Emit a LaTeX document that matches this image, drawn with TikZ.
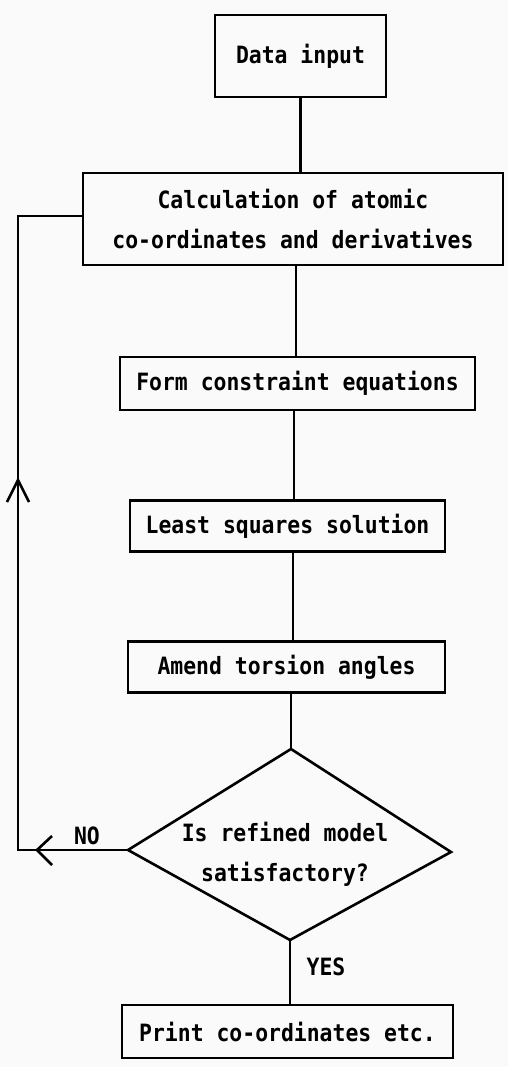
\documentclass[tikz,border=0pt]{standalone}
\usepackage{fontspec}
\setmonofont[FakeStretch=0.9]{DejaVu Sans Mono}
\begin{document}
\begin{tikzpicture}[x=1pt,y=-1pt,
  every node/.style={font=\ttfamily\bfseries\fontsize{23.8}{40}\selectfont},
  box/.style={draw,line width=2.6pt,inner sep=0pt,align=center},
  conn/.style={line width=2.6pt},
  lbl/.style={inner sep=0pt}]
\fill[white!96!gray] (0,0) rectangle (508,1067);
\useasboundingbox (0,0) rectangle (508,1067);
\node[box,minimum width=171pt,minimum height=82pt] (data) at (300.5,56) {Data input};
\node[box,minimum width=420pt,minimum height=92pt] (calc) at (293,219) {Calculation of atomic\\co-ordinates and derivatives};
\node[box,minimum width=355pt,minimum height=53pt] (form) at (297.5,383.5) {Form constraint equations};
\node[box,minimum width=315pt,minimum height=51pt] (least) at (287.5,526) {Least squares solution};
\node[box,minimum width=317pt,minimum height=51pt] (amend) at (286.5,667) {Amend torsion angles};
\coordinate (dt) at (291,749);
\coordinate (dl) at (128,850);
\coordinate (dr) at (451,852);
\coordinate (db) at (290,940);
\draw[conn,line join=miter] (dt) -- (dr) -- (db) -- (dl) -- cycle;
\node[lbl,align=center] (q) at (285,854) {Is refined model\\satisfactory?};
\node[box,minimum width=331pt,minimum height=53pt] (print) at (287.5,1031.5) {Print co-ordinates etc.};
\draw[conn] (data.south) -- (calc.north -| data.south);
\draw[conn] (calc.south -| 296,0) -- (form.north -| 296,0);
\draw[conn] (form.south -| 294,0) -- (least.north -| 294,0);
\draw[conn] (least.south -| 293,0) -- (amend.north -| 293,0);
\draw[conn] (amend.south -| dt) -- (dt);
\draw[conn] (db) -- (print.north -| db);
\coordinate (lc) at (18,850);
\coordinate (tc) at (18,216);
\draw[conn] (dl) -- (lc) -- (tc) -- (calc.west |- tc);
\coordinate (upa) at (18,480);
\draw[conn] ([xshift=-11pt,yshift=-22pt]upa) -- (upa) -- ([xshift=11pt,yshift=-22pt]upa);
\coordinate (noa) at (37,850);
\draw[conn] ([xshift=15pt,yshift=14pt]noa) -- (noa) -- ([xshift=15pt,yshift=-15pt]noa);
\node[lbl] (no) at (87,836) {NO};
\node[lbl] (yes) at (326,967) {YES};
\end{tikzpicture}
\end{document}
